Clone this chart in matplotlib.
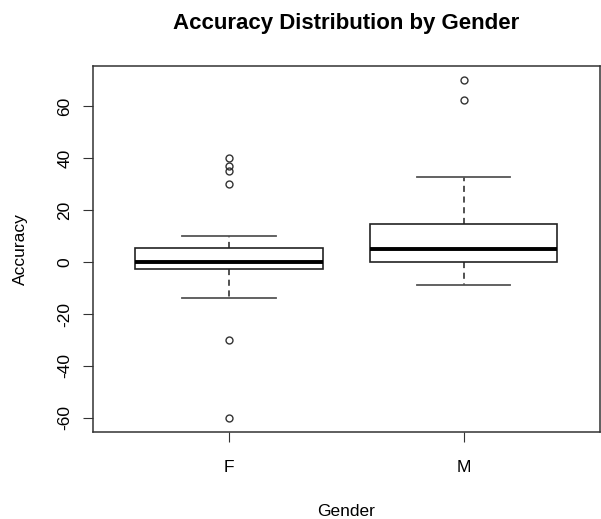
import matplotlib.pyplot as plt

plt.rcParams["font.family"] = ["Liberation Sans", "DejaVu Sans"]
plt.rcParams["axes.unicode_minus"] = False

groups = ["F", "M"]
q1 = [-2.8, 0.0]
medians = [0.0, 5.1]
q3 = [5.3, 14.6]
whis_lo = [-13.8, -9.0]
whis_hi = [10.1, 32.7]
outliers = [[40, 37, 35, 30, -30, -60], [70, 62.3]]

stats = []
for i, g in enumerate(groups):
    stats.append({
        "label": g, "q1": q1[i], "med": medians[i], "q3": q3[i],
        "whislo": whis_lo[i], "whishi": whis_hi[i], "fliers": outliers[i],
    })

fig = plt.figure(figsize=(6.01, 5.19), dpi=100)
ax = fig.add_axes([0.1547, 0.1676, 0.843, 0.7052])

ax.bxp(stats, widths=0.8, patch_artist=True,
       boxprops=dict(facecolor="white", edgecolor="#222222", linewidth=1.2),
       medianprops=dict(color="black", linewidth=2.8),
       whiskerprops=dict(color="#222222", linewidth=1.1, linestyle=(0, (4, 3))),
       capprops=dict(color="#555555", linewidth=1.3),
       capwidths=0.4,
       flierprops=dict(marker="o", markerfacecolor="none", markeredgecolor="#333333",
                       markersize=5, markeredgewidth=1.0))

ax.set_xlim(0.42, 2.58)
ax.set_ylim(-65.4, 75.4)
ax.set_yticks([-60, -40, -20, 0, 20, 40, 60])
ax.tick_params(axis="y", labelrotation=90, length=7, labelsize=12.5, pad=8, color="#333333")
ax.tick_params(axis="x", length=7, labelsize=12.5, pad=13, color="#333333")
for lab in ax.get_yticklabels():
    lab.set_va("center")

for s in ax.spines.values():
    s.set_color("#333333")
    s.set_linewidth(1.1)

ax.set_title("Accuracy Distribution by Gender", fontweight="bold", fontsize=16, pad=27)
ax.set_xlabel("Gender", fontsize=12.5, labelpad=21)
ax.set_ylabel("Accuracy", fontsize=12.5, labelpad=21)

plt.savefig("out.png", dpi=100)
